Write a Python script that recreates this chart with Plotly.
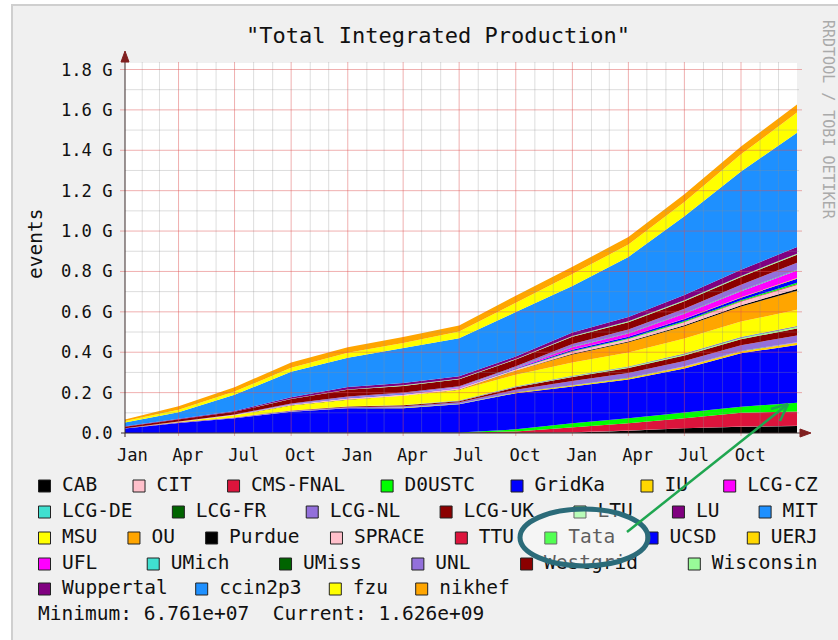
import plotly.graph_objects as go
import pandas as pd

# ---------------- data (cumulative events, in G = 1e9) ----------------
DATES = ["2006-01-04", "2006-04-01", "2006-07-01", "2006-10-01", "2007-01-01",
         "2007-04-01", "2007-07-01", "2007-10-01", "2008-01-01", "2008-04-01",
         "2008-07-01", "2008-10-01", "2008-12-31"]

CAB       = [0, 0, 0, 0, 0, 0, 0, 0.001, 0.003, 0.011, 0.023, 0.031, 0.035]
CIT       = [0, 0, 0, 0, 0, 0, 0, 0, 0.001, 0.001, 0.001, 0.001, 0.001]
CMS_FNAL  = [0, 0, 0, 0, 0, 0, 0.001, 0.007, 0.024, 0.036, 0.049, 0.068, 0.070]
D0USTC    = [0, 0, 0, 0, 0, 0, 0.002, 0.010, 0.020, 0.025, 0.027, 0.030, 0.044]
GRIDKA    = [0.022, 0.050, 0.073, 0.105, 0.122, 0.123, 0.139, 0.179, 0.182, 0.192, 0.220, 0.265, 0.286]
IU        = [0, 0, 0, 0.001, 0.001, 0.002, 0.002, 0.003, 0.005, 0.006, 0.008, 0.009, 0.011]
LCG_CZ    = [0, 0, 0, 0, 0, 0, 0, 0, 0, 0, 0.001, 0.001, 0.001]
LCG_DE    = [0, 0, 0, 0, 0, 0.001, 0.001, 0.001, 0.001, 0.001, 0.001, 0.001, 0.001]
LCG_FR    = [0, 0, 0, 0, 0, 0, 0, 0.001, 0.001, 0.001, 0.001, 0.001, 0.001]
LCG_NL    = [0.001, 0.002, 0.003, 0.004, 0.005, 0.007, 0.007, 0.012, 0.020, 0.024, 0.026, 0.028, 0.033]
LCG_UK    = [0, 0.001, 0.001, 0.002, 0.003, 0.005, 0.005, 0.012, 0.020, 0.025, 0.027, 0.029, 0.035]
LTU       = [0, 0, 0, 0, 0.001, 0.001, 0.002, 0.003, 0.004, 0.005, 0.006, 0.007, 0.008]
LU        = [0, 0, 0, 0, 0, 0, 0.001, 0.001, 0.001, 0.001, 0.002, 0.002, 0.002]
MIT       = [0, 0, 0, 0, 0, 0, 0.001, 0.001, 0.001, 0.001, 0.002, 0.002, 0.002]
MSU       = [0, 0.003, 0.011, 0.024, 0.033, 0.045, 0.052, 0.058, 0.066, 0.070, 0.074, 0.077, 0.080]
OU        = [0, 0, 0, 0, 0, 0, 0.001, 0.020, 0.040, 0.050, 0.060, 0.075, 0.095]
PURDUE    = [0, 0, 0, 0.001, 0.001, 0.001, 0.001, 0.001, 0.003, 0.004, 0.005, 0.006, 0.008]
SPRACE    = [0.001, 0.001, 0.002, 0.004, 0.006, 0.006, 0.006, 0.006, 0.010, 0.012, 0.015, 0.017, 0.020]
TTU       = [0, 0, 0, 0, 0, 0, 0, 0, 0.001, 0.001, 0.002, 0.002, 0.003]
TATA      = [0, 0, 0, 0, 0, 0, 0, 0.001, 0.003, 0.003, 0.004, 0.005, 0.008]
UCSD      = [0, 0, 0, 0.001, 0.002, 0.002, 0.002, 0.002, 0.006, 0.007, 0.010, 0.013, 0.020]
UERJ      = [0, 0, 0, 0, 0, 0, 0, 0, 0.001, 0.001, 0.002, 0.002, 0.003]
UFL       = [0, 0, 0, 0, 0, 0, 0.002, 0.003, 0.012, 0.016, 0.024, 0.030, 0.038]
UMICH     = [0, 0, 0, 0, 0.001, 0.001, 0.001, 0.001, 0.001, 0.001, 0.002, 0.002, 0.002]
UMISS     = [0, 0, 0, 0, 0, 0, 0, 0.001, 0.001, 0.001, 0.001, 0.002, 0.002]
UNL       = [0, 0.001, 0.002, 0.004, 0.006, 0.006, 0.006, 0.006, 0.014, 0.017, 0.022, 0.028, 0.034]
WESTGRID  = [0.007, 0.010, 0.013, 0.022, 0.033, 0.033, 0.034, 0.034, 0.036, 0.037, 0.038, 0.039, 0.040]
WISCONSIN = [0, 0, 0, 0.001, 0.002, 0.003, 0.003, 0.003, 0.003, 0.004, 0.004, 0.005, 0.005]
WUPPERTAL = [0.002, 0.003, 0.004, 0.008, 0.012, 0.012, 0.012, 0.012, 0.018, 0.022, 0.026, 0.030, 0.033]
CCIN2P3   = [0.019, 0.032, 0.080, 0.126, 0.145, 0.171, 0.188, 0.220, 0.230, 0.297, 0.390, 0.487, 0.566]
FZU       = [0.007, 0.012, 0.016, 0.020, 0.024, 0.027, 0.033, 0.045, 0.059, 0.061, 0.071, 0.085, 0.100]
NIKHEF    = [0.008, 0.018, 0.022, 0.026, 0.028, 0.029, 0.030, 0.036, 0.036, 0.037, 0.038, 0.039, 0.040]

NAMES = ["CAB", "CIT", "CMS-FNAL", "D0USTC", "GridKa", "IU", "LCG-CZ",
         "LCG-DE", "LCG-FR", "LCG-NL", "LCG-UK", "LTU", "LU", "MIT",
         "MSU", "OU", "Purdue", "SPRACE", "TTU", "Tata", "UCSD", "UERJ",
         "UFL", "UMich", "UMiss", "UNL", "Westgrid", "Wisconsin",
         "Wuppertal", "ccin2p3", "fzu", "nikhef"]
SERIES = [CAB, CIT, CMS_FNAL, D0USTC, GRIDKA, IU, LCG_CZ, LCG_DE, LCG_FR,
          LCG_NL, LCG_UK, LTU, LU, MIT, MSU, OU, PURDUE, SPRACE, TTU, TATA,
          UCSD, UERJ, UFL, UMICH, UMISS, UNL, WESTGRID, WISCONSIN, WUPPERTAL,
          CCIN2P3, FZU, NIKHEF]

Y_TICKS = [0.0, 0.2, 0.4, 0.6, 0.8, 1.0, 1.2, 1.4, 1.6, 1.8]
Y_TICK_TEXT = ["0.0", "0.2 G", "0.4 G", "0.6 G", "0.8 G", "1.0 G",
               "1.2 G", "1.4 G", "1.6 G", "1.8 G"]
X_TICK_TEXT = ["Jan", "Apr", "Jul", "Oct"] * 3
LEGEND_ROWS = [7, 7, 8, 6, 4]
SUMMARY = "Minimum: 6.761e+07 \u00a0Current: 1.626e+09"

# ---------------- styling / layout ----------------
PALETTE = ["#000000", "#FFC0CB", "#DC143C", "#00FF00", "#0000FF", "#FFD700",
           "#FF00FF", "#40E0D0", "#006400", "#9370DB", "#8B0000", "#98FB98",
           "#800080", "#1E90FF", "#FFFF00", "#FFA500"]
FONT = "DejaVu Sans Mono"
W, H = 838, 640
PL, PR, PT, PB = 125, 797, 63, 433          # plot canvas in page pixels
Y_TOP = 1.8 * (PB - PT) / 363.5             # 1.8 G grid line sits 363.5 px above zero


def px(x):
    return x / W


def py(y):
    return 1 - y / H


fig = go.Figure()
for i, (name, vals) in enumerate(zip(NAMES, SERIES)):
    fig.add_trace(go.Scatter(
        x=DATES, y=vals, name=name, stackgroup="one", mode="lines",
        line=dict(width=0), fillcolor=PALETTE[i % 16], hoverinfo="skip",
        showlegend=False))

# ---- rrdtool-like legend, laid out in page pixels on a hidden subplot ----
CW = 11.8          # char advance of legend font
BOX_TO_TEXT = 24
LEFT, RIGHT = 38, 818
ROW_Y = [486, 512, 538, 564, 589]
box_x, box_y, txt_x, colors = [], [], [], []
k = 0
for r, n in enumerate(LEGEND_ROWS):
    names = NAMES[k:k + n]
    widths = [BOX_TO_TEXT + len(s) * CW for s in names]
    gap = (RIGHT - LEFT - sum(widths)) / (n - 1) if r < len(LEGEND_ROWS) - 1 else 27
    x = LEFT
    for j, s in enumerate(names):
        box_x.append(x + 6.5)
        txt_x.append(x + BOX_TO_TEXT)
        box_y.append(ROW_Y[r])
        colors.append(PALETTE[(k + j) % 16])
        x += widths[j] + gap
    k += n

fig.add_trace(go.Scatter(
    x=box_x, y=box_y, mode="markers", xaxis="x3", yaxis="y3",
    marker=dict(symbol="square", size=12, color=colors,
                line=dict(color="#222222", width=1)),
    cliponaxis=False, hoverinfo="skip", showlegend=False))
fig.add_trace(go.Scatter(
    x=txt_x, y=box_y, mode="text", text=NAMES, xaxis="x3", yaxis="y3",
    textposition="middle right", textfont=dict(family=FONT, size=19.5, color="#111111"),
    cliponaxis=False, hoverinfo="skip", showlegend=False))

shapes = []
# white drawing canvas
shapes.append(dict(type="rect", xref="paper", yref="paper", x0=px(PL), x1=px(PR),
                   y0=py(PB), y1=py(PT), fillcolor="white", line=dict(width=0), layer="below"))
# frame of the rrd image
for (x0, y0, x1, y1, c) in [(0, 0, 11, H, "white"), (0, 0, W, 4, "white"),
                            (11, 4, 13, H, "#cfcfcf"), (11, 4, W, 6, "#cfcfcf")]:
    shapes.append(dict(type="rect", xref="paper", yref="paper", x0=px(x0), x1=px(x1),
                       y0=py(y1), y1=py(y0), fillcolor=c, line=dict(width=0), layer="above"))

GRID = "rgba(143,143,143,0.30)"
MGRID = "rgba(222,79,79,0.45)"
# vertical grid (drawn over the data, as rrdtool does)
for m in pd.date_range("2006-02-01", "2008-12-01", freq="MS"):
    major = m.month in (1, 4, 7, 10)
    d = m.strftime("%Y-%m-%d")
    shapes.append(dict(type="line", xref="x", yref="paper", x0=d, x1=d,
                       y0=py(436 if major else PB), y1=py(62),
                       line=dict(color=MGRID if major else GRID, width=1), layer="above"))
# horizontal grid
for i in range(1, 19):
    v = i / 10
    major = i % 2 == 0
    shapes.append(dict(type="line", xref="paper", yref="y",
                       x0=px(120 if major else PL), x1=px(802 if major else 799),
                       y0=v, y1=v,
                       line=dict(color=MGRID if major else GRID, width=1), layer="above"))
AXIS = "#3b2a2a"
ARROW = "#801f1f"
shapes += [
    dict(type="line", xref="paper", yref="paper", x0=px(121), x1=px(802), y0=py(PB), y1=py(PB),
         line=dict(color=AXIS, width=1), layer="above"),
    dict(type="line", xref="paper", yref="paper", x0=px(PL), x1=px(PL), y0=py(437), y1=py(60),
         line=dict(color=AXIS, width=1), layer="above"),
    dict(type="path", xref="paper", yref="paper",
         path=f"M{px(121)},{py(62)} L{px(125)},{py(51)} L{px(129)},{py(62)} Z",
         fillcolor=ARROW, line=dict(color=ARROW, width=1), layer="above"),
    dict(type="path", xref="paper", yref="paper",
         path=f"M{px(800)},{py(429)} L{px(811)},{py(433)} L{px(800)},{py(437)} Z",
         fillcolor=ARROW, line=dict(color=ARROW, width=1), layer="above"),
]
# annotation overlay: ellipse around "Tata" and green arrow into the plot
shapes.append(dict(type="circle", xref="paper", yref="paper",
                   x0=px(520), x1=px(648), y0=py(566), y1=py(509),
                   fillcolor="rgba(255,255,255,0.32)",
                   line=dict(color="#2b6b79", width=5), layer="above"))
GREEN = "#1fa650"
for (xa, ya, xb, yb) in [(627, 532, 788, 404), (788, 404, 771, 409), (788, 404, 780, 421)]:
    shapes.append(dict(type="line", xref="paper", yref="paper",
                       x0=px(xa), y0=py(ya), x1=px(xb), y1=py(yb),
                       line=dict(color=GREEN, width=2.5), layer="above"))

annotations = [
    dict(text='"Total Integrated Production"', x=px(437.5), y=py(35), xref="paper", yref="paper",
         showarrow=False, xanchor="center", yanchor="middle",
         font=dict(family=FONT, size=22, color="#111111")),
    dict(text="events", x=px(35), y=py(244), xref="paper", yref="paper", textangle=-90,
         showarrow=False, xanchor="center", yanchor="middle",
         font=dict(family=FONT, size=19.5, color="#111111")),
    dict(text="RRDTOOL / TOBI OETIKER", x=px(828), y=py(120), xref="paper", yref="paper",
         textangle=90, showarrow=False, xanchor="center", yanchor="middle",
         font=dict(family=FONT, size=15, color="#aaaaaa")),
    dict(text=SUMMARY, x=px(36), y=py(613), xref="paper", yref="paper",
         showarrow=False, xanchor="left", yanchor="middle",
         font=dict(family=FONT, size=19.5, color="#111111")),
]

quarter_labels = (pd.date_range("2006-01-01", periods=12, freq="QS")
                  + pd.Timedelta(days=15)).strftime("%Y-%m-%d").tolist()

fig.update_layout(
    width=W, height=H, autosize=False,
    margin=dict(l=0, r=0, t=0, b=0, pad=0, autoexpand=False),
    paper_bgcolor="#f0f0f0", plot_bgcolor="rgba(0,0,0,0)",
    showlegend=False,
    xaxis=dict(type="date", domain=[px(PL), px(PR)], range=[DATES[0], DATES[-1]],
               tickvals=quarter_labels, ticktext=X_TICK_TEXT, automargin=False,
               showgrid=False, zeroline=False, showline=False,
               ticks="outside", ticklen=6, tickcolor="rgba(0,0,0,0)",
               tickfont=dict(family=FONT, size=17.15, color="#111111"), fixedrange=True),
    yaxis=dict(domain=[py(PB), py(PT)], range=[0, Y_TOP], tickvals=Y_TICKS, ticktext=Y_TICK_TEXT,
               automargin=False, showgrid=False, zeroline=False, showline=False,
               ticks="outside", ticklen=8, tickcolor="rgba(0,0,0,0)",
               tickfont=dict(family=FONT, size=17.15, color="#111111"), fixedrange=True),
    xaxis3=dict(domain=[px(14), 1], range=[14, W], anchor="y3", visible=False,
                automargin=False, fixedrange=True),
    yaxis3=dict(domain=[0, py(445)], range=[H, 445], anchor="x3", visible=False,
                automargin=False, fixedrange=True),
    shapes=shapes,
    annotations=annotations,
)

fig.write_html("out.html")
